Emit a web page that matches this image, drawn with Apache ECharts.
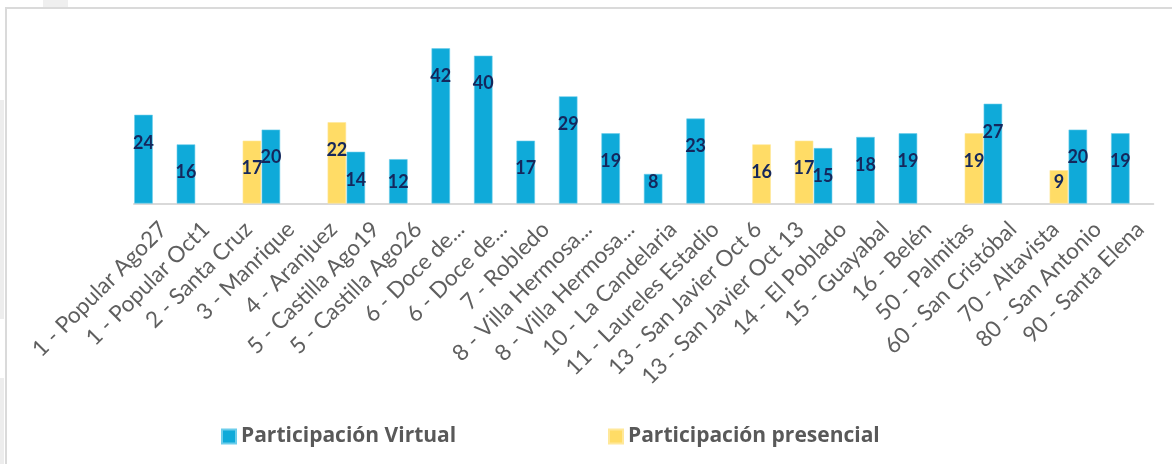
<!DOCTYPE html>
<html>
<head>
<meta charset="utf-8">
<script src="https://cdn.jsdelivr.net/npm/echarts@6/dist/echarts.min.js"></script>
<style>
html,body{margin:0;padding:0;background:#fff;}
#chart{width:1172px;height:464px;}
</style>
</head>
<body>
<div id="chart"></div>
<script>
const categories = [
  '1 - Popular Ago27', '1 - Popular Oct1', '2 - Santa Cruz', '3 - Manrique', '4 - Aranjuez',
  '5 - Castilla Ago19', '5 - Castilla Ago26', '6 - Doce de...', '6 - Doce de...', '7 - Robledo',
  '8 - Villa Hermosa...', '8 - Villa Hermosa...', '10 - La Candelaria', '11 - Laureles Estadio',
  '13 - San Javier Oct 6', '13 - San Javier Oct 13', '14 - El Poblado', '15 - Guayabal', '16 - Belén',
  '50 - Palmitas', '60 - San Cristóbal', '70 - Altavista', '80 - San Antonio', '90 - Santa Elena'
];
const virtualValues = [24, 16, null, 20, null, 14, 12, 42, 40, 17, 29, 19, 8, 23, null, null, 15, 18, 19, null, 27, null, 20, 19];
const presencialValues = [null, null, 17, null, 22, null, null, null, null, null, null, null, null, null, 16, 17, null, null, null, 19, null, 9, null, null];
const seriesNames = ['Participación Virtual', 'Participación presencial'];

function withLabels(arr) {
  return arr.map(v => {
    if (v == null) return null;
    return {
      value: v,
      label: v >= 13 ? { position: 'insideTop', distance: 19.5 } : { position: 'insideBottom', distance: 12.5 }
    };
  });
}

const labelStyle = {
  show: true,
  color: '#15275C',
  fontFamily: 'Lato',
  fontWeight: 'bold',
  fontSize: 18,
  lineHeight: 17
};

const chart = echarts.init(document.getElementById('chart'), null, { renderer: 'canvas' });
chart.setOption({
  animation: false,
  backgroundColor: '#ffffff',
  graphic: [
    { type: 'rect', shape: { x: 43, y: 0, width: 25, height: 7 }, style: { fill: '#efefef' }, silent: true },
    { type: 'rect', shape: { x: 0, y: 100, width: 4, height: 219 }, style: { fill: '#ededed' }, silent: true },
    { type: 'rect', shape: { x: 0, y: 378, width: 4, height: 86 }, style: { fill: '#ededed' }, silent: true },
    { type: 'rect', shape: { x: 5, y: 7, width: 1167, height: 2 }, style: { fill: '#dadada' }, silent: true },
    { type: 'rect', shape: { x: 5, y: 7, width: 2, height: 457 }, style: { fill: '#dadada' }, silent: true }
  ],
  grid: { left: 134, right: 18.7, top: 37.2, bottom: 260.5, containLabel: false, outerBoundsMode: 'none' },
  legend: [
    {
      data: [seriesNames[0]], left: 216, top: 421, icon: 'rect', itemWidth: 14, itemHeight: 14,
      textStyle: { fontFamily: 'Open Sans', fontWeight: 'bold', fontSize: 21, color: '#595959' }
    },
    {
      data: [seriesNames[1]], left: 603, top: 421, icon: 'rect', itemWidth: 14, itemHeight: 14,
      textStyle: { fontFamily: 'Open Sans', fontWeight: 'bold', fontSize: 21, color: '#595959' }
    }
  ],
  xAxis: {
    type: 'category',
    data: categories,
    axisLine: { show: true, lineStyle: { color: '#d9d9d9', width: 2 } },
    axisTick: { show: false },
    axisLabel: {
      interval: 0, rotate: 45, margin: 14, align: 'right', verticalAlign: 'top',
      fontFamily: 'Lato', fontSize: 22.5, color: '#5f5f5f'
    },
    splitLine: { show: false }
  },
  yAxis: {
    type: 'value', min: 0, max: 45, show: false, splitLine: { show: false }
  },
  series: [
    {
      name: seriesNames[0], type: 'bar', data: withLabels(virtualValues),
      barWidth: 18.5, barGap: '27%',
      itemStyle: { color: '#0FAAD9', borderColor: '#6CCDEB', borderWidth: 0.6 },
      label: labelStyle
    },
    {
      name: seriesNames[1], type: 'bar', data: withLabels(presencialValues),
      barWidth: 18.5, barGap: '27%',
      itemStyle: { color: '#FFDC66', borderColor: '#FFE89A', borderWidth: 0.6 },
      label: labelStyle
    }
  ]
});
</script>
</body>
</html>
